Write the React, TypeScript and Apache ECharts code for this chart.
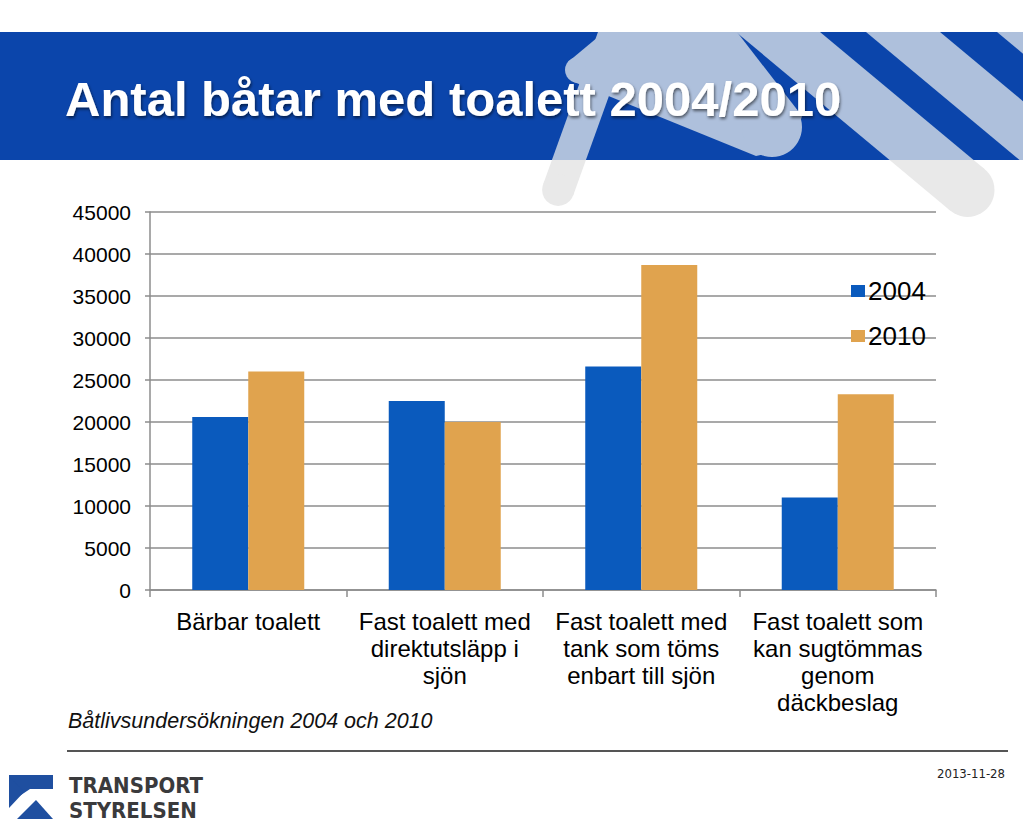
import React, { useEffect, useRef } from "react";
import * as echarts from "echarts";

const categories = [
  "Bärbar toalett",
  "Fast toalett med\ndirektutsläpp i\nsjön",
  "Fast toalett med\ntank som töms\nenbart till sjön",
  "Fast toalett som\nkan sugtömmas\ngenom\ndäckbeslag",
];
const seriesNames = ["2004", "2010"];
const values2004 = [20600, 22500, 26600, 11000];
const values2010 = [26000, 20000, 38700, 23300];
const yMin = 0;
const yMax = 45000;
const yInterval = 5000;

const titleText = "Antal båtar med toalett 2004/2010";
const sourceText = "Båtlivsundersökningen 2004 och 2010";
const dateText = "2013-11-28";
const logoLines = ["TRANSPORT", "STYRELSEN"];

const FONT = "'Liberation Sans', Arial, Helvetica, sans-serif";
const BLUE = "#0A5ABD";
const ORANGE = "#E0A34E";
const GRID = "#8C8C8C";
const BANNER = "#0B45AB";
const LIGHT = "#AEC0DC";
const GRAY = "#E9E9E9";
const LOGO_BLUE = "#1F4FA0";

// decorative stripe: center x at y=32 is xTop, slope s (dx/dy), horizontal half-width h
function stripe(xTop: number, s: number, h: number, yEnd: number | null): any[] {
  const xc = (y: number) => xTop + s * (y - 32);
  const els: any[] = [];
  els.push({
    type: "polygon",
    shape: {
      points: [
        [xc(32) - h, 32],
        [xc(32) + h, 32],
        [xc(160) + h, 160],
        [xc(160) - h, 160],
      ],
    },
    style: { fill: LIGHT },
    z: 1,
  });
  if (yEnd !== null) {
    const len = Math.sqrt(1 + s * s);
    const r = h / len;
    const nx = 1 / len;
    const ny = -s / len;
    const cx = xc(yEnd);
    const cy = yEnd;
    els.push({
      type: "polygon",
      shape: {
        points: [
          [xc(160) - h, 160],
          [xc(160) + h, 160],
          [cx + nx * r, cy + ny * r],
          [cx - nx * r, cy - ny * r],
        ],
      },
      style: { fill: GRAY },
      z: 1,
    });
    els.push({ type: "circle", shape: { cx, cy, r }, style: { fill: GRAY }, z: 1 });
  }
  return els;
}

export default function App() {
  const ref = useRef<HTMLDivElement>(null);

  useEffect(() => {
    if (!ref.current) return;
    const chart = echarts.init(ref.current, null, { renderer: "svg" });

    const graphics: any[] = [
      { type: "rect", shape: { x: 0, y: 32, width: 1023, height: 128 }, style: { fill: BANNER }, z: 0 },
      // key-like blob
      {
        type: "polygon",
        shape: {
          points: [
            [568, 62],
            [604, 32],
            [737, 32],
            [802, 116],
            [792, 148],
            [756, 156],
            [574, 82],
          ],
        },
        style: { fill: LIGHT },
        z: 1,
      },
      { type: "circle", shape: { cx: 578, cy: 70, r: 13 }, style: { fill: LIGHT }, z: 1 },
      { type: "circle", shape: { cx: 772, cy: 127, r: 30 }, style: { fill: LIGHT }, z: 1 },
      ...stripe(615, -0.36, 17, 190),
      ...stripe(778, 1.2, 42, 190),
      ...stripe(903, 1.2, 37, null),
      ...stripe(1042, 1.2, 45, null),
      {
        type: "text",
        z: 5,
        style: {
          text: titleText,
          x: 65,
          y: 99,
          fill: "#FFFFFF",
          font: `bold 49px ${FONT}`,
          textAlign: "left",
          textVerticalAlign: "middle",
          textShadowColor: "rgba(0,0,0,0.55)",
          textShadowBlur: 3,
          textShadowOffsetX: 1,
          textShadowOffsetY: 2,
        },
      },
      {
        type: "text",
        z: 5,
        style: {
          text: sourceText,
          x: 68,
          y: 721,
          fill: "#111111",
          font: `italic 21.5px ${FONT}`,
          textAlign: "left",
          textVerticalAlign: "middle",
        },
      },
      {
        type: "line",
        z: 5,
        shape: { x1: 67, y1: 751, x2: 1008, y2: 751 },
        style: { stroke: "#555555", lineWidth: 2 },
      },
      {
        type: "text",
        z: 5,
        style: {
          text: dateText,
          x: 1005,
          y: 773,
          fill: "#222222",
          font: `13px 'DejaVu Sans Condensed', 'Liberation Sans Narrow', sans-serif`,
          textAlign: "right",
          textVerticalAlign: "middle",
        },
      },
      // logo
      {
        type: "polygon",
        z: 5,
        shape: {
          points: [
            [9, 775],
            [53, 775],
            [53, 789],
            [30, 789],
            [9, 803],
          ],
        },
        style: { fill: LOGO_BLUE },
      },
      {
        type: "polygon",
        z: 5,
        shape: {
          points: [
            [9, 776],
            [24, 792],
            [9, 808],
          ],
        },
        style: { fill: LOGO_BLUE },
      },
      {
        type: "polygon",
        z: 5,
        shape: {
          points: [
            [17, 819],
            [53, 819],
            [36, 800],
          ],
        },
        style: { fill: LOGO_BLUE },
      },
      {
        type: "text",
        z: 5,
        style: {
          text: logoLines[0],
          x: 69,
          y: 785,
          fill: "#3A3A3C",
          font: `bold 22px 'DejaVu Sans Condensed', 'Liberation Sans Narrow', sans-serif`,
          textAlign: "left",
          textVerticalAlign: "middle",
        },
      },
      {
        type: "text",
        z: 5,
        style: {
          text: logoLines[1],
          x: 69,
          y: 810,
          fill: "#3A3A3C",
          font: `bold 22px 'DejaVu Sans Condensed', 'Liberation Sans Narrow', sans-serif`,
          textAlign: "left",
          textVerticalAlign: "middle",
        },
      },
    ];

    chart.setOption({
      animation: false,
      backgroundColor: "#FFFFFF",
      grid: { left: 150, right: 87, top: 212, bottom: 241, containLabel: false },
      legend: {
        data: seriesNames,
        orient: "vertical",
        left: 846,
        top: 271,
        itemWidth: 14,
        itemHeight: 12,
        itemGap: 15,
        icon: "rect",
        textStyle: { fontFamily: FONT, fontSize: 26, color: "#000000", lineHeight: 30, padding: [0, 0, 0, -2] },
      },
      xAxis: {
        type: "category",
        data: categories,
        axisLine: { lineStyle: { color: GRID, width: 1.5 } },
        axisTick: { show: true, length: 7, lineStyle: { color: GRID, width: 1.5 } },
        axisLabel: {
          interval: 0,
          margin: 18,
          fontFamily: FONT,
          fontSize: 24,
          lineHeight: 27,
          color: "#000000",
          align: "center",
        },
      },
      yAxis: {
        type: "value",
        min: yMin,
        max: yMax,
        interval: yInterval,
        axisLine: { show: true, lineStyle: { color: GRID, width: 1.5 } },
        axisTick: { show: true, length: 5, lineStyle: { color: GRID, width: 1.5 } },
        splitLine: { show: true, lineStyle: { color: GRID, width: 1.5 } },
        axisLabel: {
          margin: 19,
          fontFamily: FONT,
          fontSize: 21,
          color: "#000000",
          formatter: (v: number) => String(v),
        },
      },
      series: [
        {
          name: seriesNames[0],
          type: "bar",
          data: values2004,
          itemStyle: { color: BLUE },
          barGap: "0%",
          barCategoryGap: "43%",
        },
        {
          name: seriesNames[1],
          type: "bar",
          data: values2010,
          itemStyle: { color: ORANGE },
          barGap: "0%",
          barCategoryGap: "43%",
        },
      ],
      graphic: { elements: graphics },
    });

    return () => chart.dispose();
  }, []);

  return (
    <div
      ref={ref}
      style={{ position: "fixed", left: 0, top: 0, width: 1023, height: 831, background: "#FFFFFF" }}
    />
  );
}
